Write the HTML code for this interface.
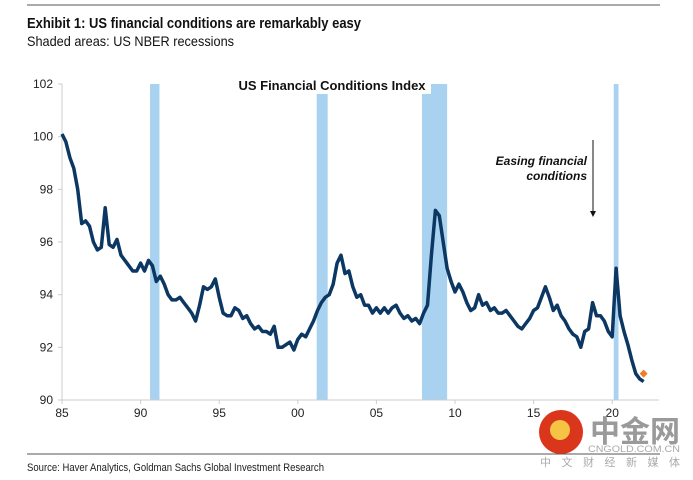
<!DOCTYPE html>
<html><head><meta charset="utf-8">
<style>
html,body{margin:0;padding:0;background:#fff;}
svg{display:block;font-family:"Liberation Sans",Arial,sans-serif;}
</style></head>
<body>
<svg id="chart" width="693" height="480" viewBox="0 0 693 480" xmlns="http://www.w3.org/2000/svg">
<line x1="27" y1="5" x2="660" y2="5" stroke="#555" stroke-width="1"/>
<text x="27" y="28" font-size="15" font-weight="bold" fill="#111" textLength="334" lengthAdjust="spacingAndGlyphs" font-family="'Liberation Sans Narrow','Liberation Sans',sans-serif">Exhibit 1: US financial conditions are remarkably easy</text>
<text x="27" y="46" font-size="14" fill="#111" textLength="207" lengthAdjust="spacingAndGlyphs" font-family="'Liberation Sans Narrow','Liberation Sans',sans-serif">Shaded areas: US NBER recessions</text>
<g id="recessions"></g>
<g id="axes"></g>
<rect x="233" y="76" width="198" height="18" fill="#fff"/>
<text x="332" y="90" font-size="13" font-weight="bold" fill="#111" text-anchor="middle">US Financial Conditions Index</text>
<path id="line" fill="none" stroke="#0c3763" stroke-width="3.5" stroke-linejoin="round"/>
<g id="marker"></g>
<text x="587" y="165" font-size="12" font-style="italic" font-weight="bold" fill="#111" text-anchor="end">Easing financial</text>
<text x="587" y="180" font-size="12" font-style="italic" font-weight="bold" fill="#111" text-anchor="end">conditions</text>
<line x1="593" y1="140" x2="593" y2="212" stroke="#111" stroke-width="1"/>
<polygon points="590,211 596,211 593,217" fill="#111"/>
<line x1="27" y1="454" x2="660" y2="454" stroke="#555" stroke-width="1"/>
<text x="27" y="471" font-size="11" fill="#222" textLength="297" lengthAdjust="spacingAndGlyphs" font-family="'Liberation Sans Narrow','Liberation Sans',sans-serif">Source: Haver Analytics, Goldman Sachs Global Investment Research</text>
<g>
<circle cx="561" cy="432" r="22" fill="#d9361b"/>
<circle cx="560" cy="430" r="10" fill="#f6c445"/>
<text x="590" y="442" font-size="30" font-weight="bold" fill="#9a9a9a" font-family="'Liberation Sans','Noto Sans CJK SC',sans-serif">中金网</text>
<text x="588" y="452" font-size="9" fill="#aaa" textLength="92" lengthAdjust="spacingAndGlyphs">CNGOLD.COM.CN</text>
<text x="540" y="466" font-size="11" fill="#aaa" textLength="140" lengthAdjust="spacing" font-family="'Liberation Sans','Noto Sans CJK SC',sans-serif">中文财经新媒体</text>
</g>
</svg>
<script>
const years = [1985,1986,1987,1988,1989,1990,1991,1992,1993,1994,1995,1996,1997,1998,1999,2000,2001,2002,2003,2004,2005,2006,2007,2008,2009,2010,2011,2012,2013,2014,2015,2016,2017,2018,2019,2020,2021];
const quarterlyValues = [
100.1,99.8,99.2,98.8, 98.0,96.7,96.8,96.6, 96.0,95.7,95.8,97.3, 95.9,95.8,96.1,95.5,
95.3,95.1,94.9,94.9, 95.2,94.9,95.3,95.1, 94.5,94.7,94.4,94.0, 93.8,93.8,93.9,93.7,
93.5,93.3,93.0,93.6, 94.3,94.2,94.3,94.6, 93.9,93.3,93.2,93.2, 93.5,93.4,93.1,93.2,
92.9,92.7,92.8,92.6, 92.6,92.5,92.8,92.0, 92.0,92.1,92.2,91.9, 92.3,92.5,92.4,92.7,
93.0,93.4,93.7,93.9, 94.0,94.4,95.2,95.5, 94.8,94.9,94.3,93.9, 94.0,93.6,93.6,93.3,
93.5,93.3,93.5,93.3, 93.5,93.6,93.3,93.1, 93.2,93.0,93.1,92.9, 93.3,93.6,95.5,97.2,
97.0,96.0,95.0,94.5, 94.1,94.4,94.1,93.7, 93.4,93.5,94.0,93.6, 93.7,93.4,93.5,93.3,
93.3,93.4,93.2,93.0, 92.8,92.7,92.9,93.1, 93.4,93.5,93.9,94.3, 93.9,93.4,93.6,93.2,
93.0,92.7,92.5,92.4, 92.0,92.6,92.7,93.7, 93.2,93.2,93.0,92.6, 92.4,95.0,93.2,92.6,
92.1,91.5,91.0,90.8, 90.7];
const latestYear = 2022.0;
const latestValue = 91.0;
const recessionStarts = [1990.6,2001.2,2007.9,2020.1];
const recessionEnds = [1991.2,2001.9,2009.5,2020.4];
const xTickYears = [1985,1990,1995,2000,2005,2010,2015,2020];
const xTickLabels = ["85","90","95","00","05","10","15","20"];
const yTicks = [90,92,94,96,98,100,102];

const NS="http://www.w3.org/2000/svg";
const X0=62, X1=659, xMin=1985, pxPerYear=15.72;
const Y0=400, Y1=84, yMin=90, yMax=102;
const xs=t=>X0+(t-xMin)*pxPerYear;
const ys=v=>Y0-(v-yMin)/(yMax-yMin)*(Y0-Y1);
function mk(tag,attrs,parent){const e=document.createElementNS(NS,tag);for(const k in attrs)e.setAttribute(k,attrs[k]);parent.appendChild(e);return e;}

const rg=document.getElementById('recessions');
recessionStarts.forEach((s,i)=>{
  const r=mk('rect',{x:xs(s),y:Y1,width:xs(recessionEnds[i])-xs(s),height:Y0-Y1,fill:'#a9d2f0'},rg);
  
  
});

const ax=document.getElementById('axes');
const yl=mk('line',{x1:X0,y1:Y1,x2:X0,y2:Y0,stroke:'#ccc'},ax);


const xl=mk('line',{x1:X0,y1:Y0,x2:X1,y2:Y0,stroke:'#ccc'},ax);


yTicks.forEach(v=>{
  const tk=mk('line',{x1:X0-4,y1:ys(v),x2:X0,y2:ys(v),stroke:'#ccc'},ax);
  
  
  const t=mk('text',{x:X0-9,y:ys(v)+4,'font-size':12,'text-anchor':'end',fill:'#222'},ax);
  t.textContent=String(v);
  
  
});
xTickYears.forEach((yr,i)=>{
  const tk=mk('line',{x1:xs(yr),y1:Y0,x2:xs(yr),y2:Y0+4,stroke:'#ccc'},ax);
  
  
  const t=mk('text',{x:xs(yr),y:Y0+17,'font-size':12,'text-anchor':'middle',fill:'#222'},ax);
  t.textContent=xTickLabels[i];
  
  
});

let d='';
quarterlyValues.forEach((v,i)=>{
  const t=years[0]+i*0.25;
  d+=(i?'L':'M')+xs(t).toFixed(1)+' '+ys(v).toFixed(1)+' ';
});
document.getElementById('line').setAttribute('d',d);

const mg=document.getElementById('marker');
const cx=xs(latestYear), cy=ys(latestValue);
const m=mk('polygon',{points:`${cx-4},${cy} ${cx},${cy-4} ${cx+4},${cy} ${cx},${cy+4}`,fill:'#f07c2a'},mg);


</script>
</body></html>
